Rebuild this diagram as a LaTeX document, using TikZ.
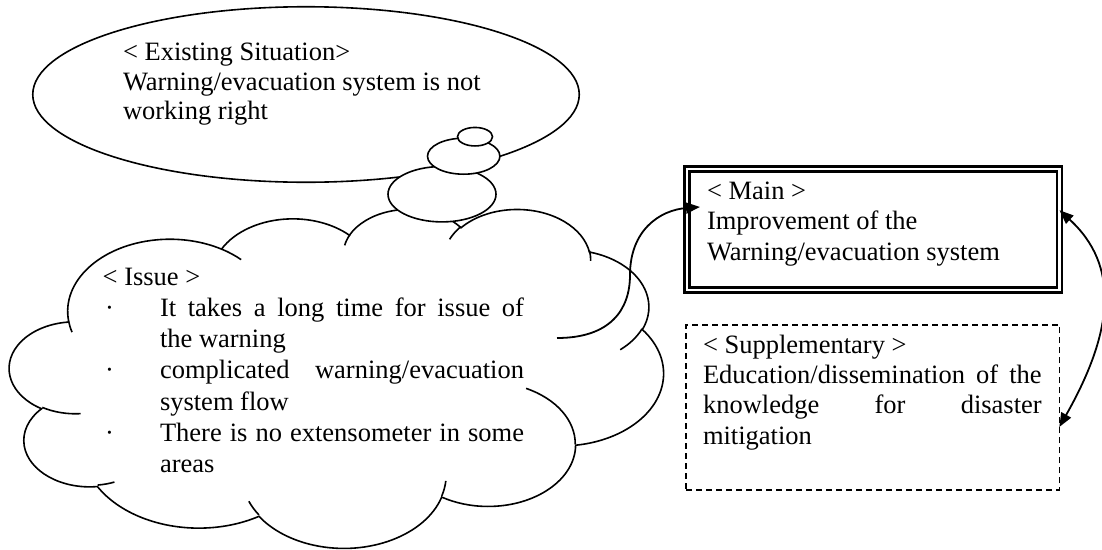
\documentclass[tikz,border=0pt]{standalone}
\usepackage{fontspec}
\setmainfont{Liberation Serif}
\usetikzlibrary{shapes.geometric,arrows.meta,calc}

% One arc of a cloud outline: #1,#2 radii, #3 start angle and #4 sweep,
% both measured as directions from the centre (converted to parametric angles).
\newcommand\cloudarc[4]{%
  \pgfmathsetmacro\cloudS{atan2((#1)*sin(#3),(#2)*cos(#3))}%
  \pgfmathsetmacro\cloudT{atan2((#1)*sin((#3)+(#4)),(#2)*cos((#3)+(#4)))}%
  \pgfmathsetmacro\cloudE{\cloudS+mod((\cloudT)-(\cloudS)+720,360)}%
  \pgfpatharc{\cloudS}{\cloudE}{#1pt and #2pt}%
}

\tikzset{arrowhd/.tip={Triangle[length=14pt,width=11pt]}}

\begin{document}
\begin{tikzpicture}[x=1pt,y=-1pt,
  shapeline/.style={draw=black, line width=1.6pt},
  txt/.style={anchor=base west, inner sep=0pt, outer sep=0pt,
    font=\fontsize{26.5pt}{30pt}\selectfont},
  bubble/.style={ellipse, shapeline, fill=white, inner sep=0pt, outer sep=0pt},
  link/.style={draw=black, line width=1.8pt},
]
\useasboundingbox (0,0) rectangle (1102,549);

% ---- existing situation ----
\node[bubble, minimum width=546.5pt, minimum height=175.5pt] (situation) at (306,94.5) {};

% ---- issue cloud ----
\begin{scope}[shift={(9.6,208.3)}, xscale=0.151319, yscale=-0.078449]
  \pgfsetlinewidth{1.6pt}
  \pgfsetfillcolor{white}
  \pgfsetstrokecolor{black}
  \pgfpathmoveto{\pgfpoint{390pt}{1437pt}}
  \cloudarc{675.3}{919.0}{-190.48748}{123.78053}
  \cloudarc{533.3}{726.7}{-144.10238}{89.94523}
  \cloudarc{436.5}{594.5}{-145.80792}{99.72302}
  \cloudarc{485.7}{659.5}{-130.98607}{117.24173}
  \cloudarc{533.3}{727.3}{-78.70888}{109.02692}
  \cloudarc{677.5}{922.0}{-46.26725}{130.269}
  \cloudarc{578.5}{786.7}{0.62502}{114.03333}
  \cloudarc{675.2}{921.5}{22.4516}{115.17255}
  \cloudarc{772.0}{1054.3}{66.24263}{75.71102}
  \cloudarc{436.0}{591.8}{-274.94208}{146.73557}
  \cloudarc{434.5}{594.5}{-246.8285}{152.51885}
  \pgfpathclose
  \pgfusepath{fill,stroke}
  % inner folds of the cloud
  \pgfpathmoveto{\pgfpoint{469.3pt}{2617.7pt}}\cloudarc{434.5}{594.5}{86.742}{26.4295}
  \pgfpathmoveto{\pgfpoint{692.8pt}{3489.9pt}}\cloudarc{436.0}{591.8}{73.61047}{11.44747}
  \pgfpathmoveto{\pgfpoint{1647.8pt}{3909.0pt}}\cloudarc{675.2}{921.5}{137.62415}{14.0811}
  \pgfpathmoveto{\pgfpoint{2882.7pt}{3475.1pt}}\cloudarc{675.2}{921.5}{6.45327}{15.99835}
  \pgfpathmoveto{\pgfpoint{3412.9pt}{2295.4pt}}\cloudarc{578.5}{786.7}{-70.29235}{70.91737}
  \pgfpathmoveto{\pgfpoint{4179.8pt}{1535.4pt}}\cloudarc{533.3}{727.3}{30.31803}{27.7515}
  \pgfpathmoveto{\pgfpoint{3832.4pt}{542.6pt}}\cloudarc{485.7}{659.5}{-13.74433}{14.8589}
  \pgfpathmoveto{\pgfpoint{2907.8pt}{395.2pt}}\cloudarc{485.7}{659.5}{-149.18145}{18.19537}
  \pgfpathmoveto{\pgfpoint{2214.1pt}{472.0pt}}\cloudarc{436.5}{594.5}{-163.49427}{17.68635}
  \pgfpathmoveto{\pgfpoint{1400.0pt}{519.2pt}}\cloudarc{675.3}{919.0}{-66.70695}{12.31935}
  \pgfpathmoveto{\pgfpoint{412.7pt}{1578.9pt}}\cloudarc{675.3}{919.0}{157.65435}{11.85817}
  \pgfusepath{stroke}
\end{scope}

% thought-bubble tail
\node[bubble, minimum width=108pt, minimum height=55.4pt] (tailA) at (442,194.2) {};
\node[bubble, minimum width=72.4pt, minimum height=36pt] (tailB) at (463.7,156.2) {};
\node[bubble, minimum width=35pt, minimum height=18.5pt] (tailC) at (475,136.7) {};

% ---- texts ----
\node[txt] (sit1) at (123,60) {< Existing Situation>};
\node[txt] (sit2) at (123,90) {Warning/evacuation system is not};
\node[txt] (sit3) at (123,119.5) {working right};

\node[txt] (iss0) at (102.7,285) {< Issue >};
\node[txt] (dot1) at (105,316.3) {·};
\node[txt] (iss1) at (160,316.3) {\makebox[364pt][s]{It takes a long time for issue of}};
\node[txt] (iss2) at (160,347.6) {the warning};
\node[txt] (dot2) at (105,378.9) {·};
\node[txt] (iss3) at (160,378.9) {\makebox[364pt][s]{complicated warning/evacuation}};
\node[txt] (iss4) at (160,410.2) {system flow};
\node[txt] (dot3) at (105,441.5) {·};
\node[txt] (iss5) at (160,441.5) {\makebox[364pt][s]{There is no extensometer in some}};
\node[txt] (iss6) at (160,472.8) {areas};

% ---- countermeasure boxes ----
\node[draw=black, line width=2.6pt, double=white, double distance=2.4pt,
  minimum width=372.7pt, minimum height=120.9pt, inner sep=0pt, outer sep=0pt]
  (main) at (873.15,229.25) {};
\node[txt] (main1) at (707,199) {< Main >};
\node[txt] (main2) at (707,229.5) {Improvement of the};
\node[txt] (main3) at (707,260) {Warning/evacuation system};

\node[draw=black, line width=1.5pt, dash pattern=on 6pt off 4pt,
  minimum width=373.3pt, minimum height=165pt, inner sep=0pt, outer sep=0pt]
  (supp) at (872.65,407.5) {};
\node[txt] (supp1) at (703,353) {< Supplementary >};
\node[txt] (supp2) at (703,383) {\makebox[338.7pt][s]{Education/dissemination of the}};
\node[txt] (supp3) at (703,413.5) {\makebox[338.7pt][s]{knowledge for disaster}};
\node[txt] (supp4) at (703,444) {mitigation};

% ---- connectors ----
\coordinate (issueEnd) at (557,338);
\draw[link, -arrowhd] (issueEnd)
  .. controls (610,338) and (630,310) .. (630,275)
  .. controls (630,230) and (660,210) .. ([shift={(13.2pt,22.25pt)}]main.west);
\draw[link, arrowhd-arrowhd] ([yshift=19pt]main.east)
  .. controls +(60,55) and +(55,-97) .. ([yshift=-19.5pt]supp.east);
\end{tikzpicture}
\end{document}
